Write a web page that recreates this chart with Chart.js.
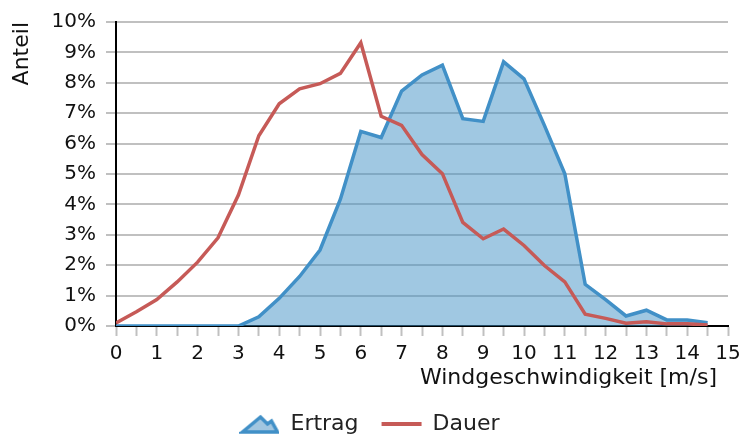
<!DOCTYPE html>
<html>
<head>
<meta charset="utf-8">
<script src="https://cdn.jsdelivr.net/npm/chart.js@4"></script>
<style>
html,body{margin:0;padding:0;background:#fff;}
#wrap{width:751px;height:438px;}
</style>
</head>
<body>
<div id="wrap"><canvas id="c" width="751" height="438"></canvas></div>
<script>
const windSpeed = [0,0.5,1,1.5,2,2.5,3,3.5,4,4.5,5,5.5,6,6.5,7,7.5,8,8.5,9,9.5,10,10.5,11,11.5,12,12.5,13,13.5,14,14.5];
const ertrag = [0,0,0,0,0,0,0,0.3,0.91,1.63,2.5,4.17,6.4,6.2,7.73,8.26,8.58,6.82,6.73,8.69,8.13,6.6,5.01,1.37,0.87,0.33,0.52,0.2,0.2,0.11];
const dauer = [0.1,0.47,0.87,1.45,2.1,2.9,4.31,6.26,7.31,7.8,7.97,8.31,9.32,6.9,6.6,5.64,5.01,3.41,2.87,3.19,2.65,1.99,1.45,0.39,0.25,0.09,0.14,0.07,0.07,0.03];
const seriesNames = ['Ertrag','Dauer'];
const xTitle = 'Windgeschwindigkeit [m/s]';
const yTitle = 'Anteil';

const BLUE = '#4190c7';
const BLUE_FILL = 'rgba(66,146,198,0.5)';
const RED = '#c65a57';
const GRID = '#c0c0c0';
const FONT = 'DejaVu Sans';
const FS_TICK = 20;
const FS_TITLE = 22;

// legend icon for area series
const icon = document.createElement('canvas');
icon.width = 40; icon.height = 22;
(function(){
  const g = icon.getContext('2d');
  g.beginPath();
  g.moveTo(3,19); g.lineTo(21,4); g.lineTo(28,11); g.lineTo(32,8); g.lineTo(38,19); g.closePath();
  g.fillStyle = '#a1c6e0'; g.fill();
  g.lineWidth = 3.5; g.lineJoin = 'miter'; g.strokeStyle = BLUE; g.stroke();
})();

const toXY = (arr) => windSpeed.map((x,i)=>({x:x, y:arr[i]}));

// axis titles: y rotated and top-aligned, x right-aligned below the ticks
const axisTitlePlugin = {
  id: 'axisTitles',
  afterDraw(chart) {
    const ctx = chart.ctx;
    const area = chart.chartArea;
    ctx.save();
    ctx.font = FS_TITLE + 'px "' + FONT + '"';
    ctx.fillStyle = '#111';
    ctx.textBaseline = 'middle';
    ctx.textAlign = 'right';
    ctx.fillText(xTitle, area.right - 11, area.bottom + 52);
    ctx.translate(22, area.top);
    ctx.rotate(-Math.PI / 2);
    ctx.fillText(yTitle, 0, 0);
    ctx.restore();
  }
};

new Chart(document.getElementById('c'), {
  type: 'line',
  data: {
    datasets: [
      {label: seriesNames[0], data: toXY(ertrag), borderColor: BLUE, backgroundColor: BLUE_FILL,
       fill: 'origin', borderWidth: 3.5, pointRadius: 0, tension: 0, order: 1},
      {label: seriesNames[1], data: toXY(dauer), borderColor: RED, backgroundColor: RED,
       fill: false, borderWidth: 3.5, pointRadius: 0, tension: 0, order: 0}
    ]
  },
  options: {
    responsive: false,
    animation: false,
    devicePixelRatio: 1,
    layout: {padding: {left: 11, right: 23, top: 9, bottom: -7}},
    plugins: {
      tooltip: {enabled: false},
      legend: {
        position: 'bottom',
        labels: {
          usePointStyle: true,
          pointStyleWidth: 40,
          boxHeight: 20,
          padding: 23,
          color: '#222',
          font: {family: FONT, size: FS_TITLE},
          generateLabels: (chart) => [
            {text: seriesNames[0], pointStyle: icon, fillStyle: BLUE_FILL, strokeStyle: BLUE, lineWidth: 0, datasetIndex: 0, fontColor: '#222'},
            {text: seriesNames[1], pointStyle: 'line', fillStyle: RED, strokeStyle: RED, lineWidth: 4, datasetIndex: 1, fontColor: '#222'}
          ]
        }
      }
    },
    scales: {
      x: {
        type: 'linear', min: 0, max: 15,
        afterFit: (scale) => { scale.height = 64; },
        ticks: {
          stepSize: 0.5, autoSkip: false, maxRotation: 0, padding: 6,
          color: '#111', font: {family: FONT, size: FS_TICK},
          callback: (v) => Number.isInteger(v) ? String(v) : ''
        },
        grid: {drawOnChartArea: false, drawTicks: true, tickLength: 10, tickColor: GRID, tickWidth: 2},
        border: {display: true, color: '#000', width: 2}
      },
      y: {
        min: 0, max: 10,
        afterFit: (scale) => { scale.width = 105; },
        ticks: {stepSize: 1, padding: 10, color: '#111', font: {family: FONT, size: FS_TICK},
                callback: (v) => v + '%'},
        grid: {color: GRID, lineWidth: 2, tickLength: 10, tickColor: GRID},
        border: {display: true, color: '#000', width: 2}
      }
    }
  },
  plugins: [axisTitlePlugin]
});
</script>
</body>
</html>
